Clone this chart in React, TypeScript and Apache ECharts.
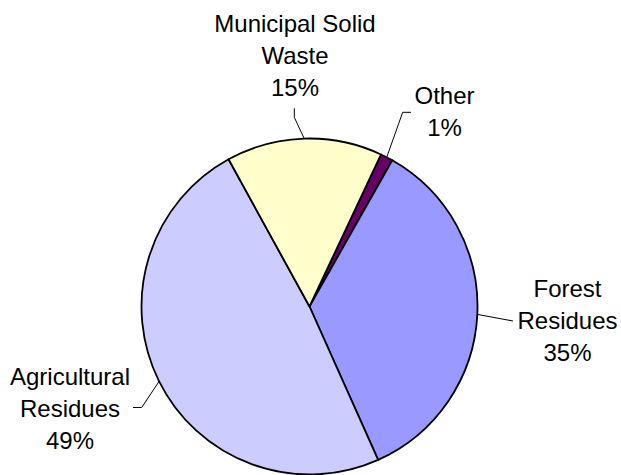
import React, { useEffect, useRef } from "react";
import * as echarts from "echarts";

const categories = ["Other", "Forest\nResidues", "Agricultural\nResidues", "Municipal Solid\nWaste"];
const values = [1.2, 35.1, 48.7, 15.0];
const colors = ["#660066", "#9999FF", "#CCCCFF", "#FFFFCC"];

// label block centres and leader-line elbow/end points (layout only)
const labelLayoutCfg = [
  { x: 444.5, y: 111, line: [[402.7, 112.3], [411, 112.3]] },
  { x: 567.5, y: 320, line: [[513, 321]] },
  { x: 70, y: 408, line: [[141.7, 407.5], [133, 407.5]] },
  { x: 295, y: 55, line: [[294.3, 117.3], [294.3, 108.3]] },
];

export default function App() {
  const ref = useRef<HTMLDivElement>(null);
  useEffect(() => {
    if (!ref.current) return;
    const chart = echarts.init(ref.current, null, { renderer: "svg" });
    chart.setOption({
      animation: false,
      backgroundColor: "#ffffff",
      series: [
        {
          type: "pie",
          center: [309.5, 306.5],
          radius: 168,
          startAngle: 64.8,
          clockwise: true,
          avoidLabelOverlap: false,
          data: categories.map((name, i) => ({
            name,
            value: values[i],
            itemStyle: { color: colors[i] },
          })),
          itemStyle: { borderColor: "#000000", borderWidth: 1.8 },
          label: {
            show: true,
            position: "outside",
            formatter: (p: any) => `${p.name}\n${Math.round(p.percent)}%`,
            fontFamily: "Liberation Sans, Arial, sans-serif",
            fontSize: 24,
            lineHeight: 32,
            color: "#000000",
            align: "center",
          },
          labelLine: {
            show: true,
            lineStyle: { color: "#000000", width: 1 },
          },
          labelLayout: (params: any) => {
            const cfg = labelLayoutCfg[params.dataIndex];
            const start = params.labelLinePoints ? params.labelLinePoints[0] : cfg.line[0];
            return {
              x: cfg.x,
              y: cfg.y,
              align: "center",
              verticalAlign: "middle",
              labelLinePoints: [start, ...cfg.line],
            };
          },
          emphasis: { disabled: true },
        },
      ],
    });
    return () => chart.dispose();
  }, []);
  return (
    <div
      ref={ref}
      style={{ position: "fixed", left: 0, top: 0, width: 621, height: 475 }}
    />
  );
}
